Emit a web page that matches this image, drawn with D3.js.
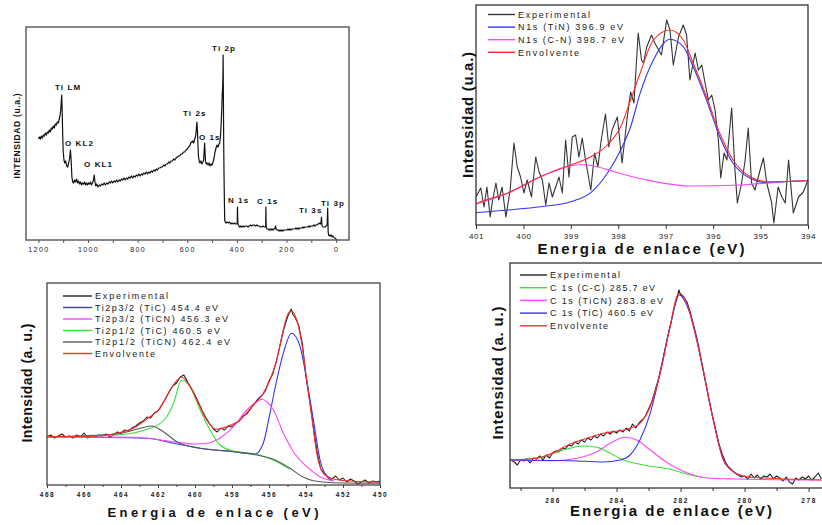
<!DOCTYPE html>
<html>
<head>
<meta charset="utf-8">
<script src="https://cdn.jsdelivr.net/npm/d3@7"></script>
<style>
  body { margin: 0; background: #fff; }
  text { font-family: "Liberation Sans", Arial, Helvetica, sans-serif; }
</style>
</head>
<body>
<svg id="fig" width="822" height="525"></svg>
<script>
// ---------- Survey spectrum: [binding energy (eV), intensity (a.u.)] ----------
const surveySpectrum = [
  [1200,101],[1196,103],[1192,101],[1188,104],[1184,102],[1180,105],[1176,104],[1172,107],[1168,105],[1164,108],
  [1160,107],[1156,110],[1152,108],[1148,112],[1144,111],[1140,114],[1136,112],[1132,116],[1128,115],[1124,118],
  [1120,117],[1116,121],[1113,124],[1110,130],[1108,138],[1106,145],[1104,128],[1102,105],[1100,88],[1097,80],
  [1094,77],[1090,79],[1086,74],[1082,73],[1078,77],[1074,82],[1071,90],[1068,80],[1065,63],[1062,58],
  [1058,57],[1054,60],[1050,58],[1046,61],[1042,57],[1038,59],[1034,56],[1030,58],[1026,55],[1022,57],
  [1018,56],[1014,58],[1010,55],[1006,57],[1002,55],[998,57],[994,56],[990,58],[986,55],[982,57],
  [978,60],[975,65],[972,58],[969,54],[965,56],[960,53],[955,55],[950,54],[945,56],[940,55],
  [935,57],[930,55],[925,57],[920,56],[915,58],[910,57],[905,59],[900,57],[895,59],[890,58],
  [885,60],[880,58],[875,60],[870,59],[865,61],[860,60],[855,62],[850,60],[845,62],[840,61],
  [835,63],[830,62],[825,64],[820,62],[815,64],[810,63],[805,65],[800,64],[795,66],[790,64],
  [785,66],[780,65],[775,67],[770,66],[765,68],[760,66],[755,68],[750,67],[745,69],[740,68],
  [735,70],[730,69],[725,71],[720,70],[715,72],[710,72],[705,73],[700,73],[695,75],[690,74],
  [685,76],[680,76],[675,78],[670,77],[665,79],[660,79],[655,81],[650,80],[645,82],[640,83],
  [635,84],[630,84],[625,86],[620,86],[615,88],[610,88],[605,90],[600,91],[595,93],[590,94],
  [586,97],[582,98],[578,99],[574,97],[570,101],[566,104],[563,112],[561,118],[559,110],[557,96],
  [555,84],[552,79],[549,77],[545,79],[541,76],[537,78],[534,80],[532,88],[530,97],[528,86],
  [526,78],[523,76],[520,77],[516,75],[512,77],[508,74],[504,76],[500,75],[496,78],[492,82],
  [488,88],[484,92],[480,95],[476,93],[472,96],[469,97],[466,104],[463,118],[461,130],[459,145],
  [457,155],[456,168],[455.5,185],[455,170],[454,130],[453,95],[452,70],[450,35],[449,20],[447,18],
  [444,17],[440,18],[435,17],[430,18],[425,16],[420,17],[415,16],[410,17],[405,16],[401,16],
  [398.5,17],[397.5,33],[396.5,20],[395.5,16],[392,14],[388,13],[384,14],[380,13],[375,14],[370,13],
  [365,14],[360,14],[355,13],[350,14],[345,15],[340,14],[335,15],[330,15],[325,14],[320,15],
  [315,14],[310,14],[305,13],[300,13],[295,14],[290,13],[286,13],[284,14],[283,33],[282,14],
  [281,12],[278,11],[274,11],[270,10],[266,11],[262,10],[258,11],[254,10],[250,11],[246,12],
  [244,14],[242,11],[238,10],[234,10],[230,9],[226,10],[222,9],[218,10],[214,9],[210,10],
  [206,10],[202,10],[198,10],[194,11],[190,10],[186,11],[182,10],[178,11],[174,11],[170,11],
  [166,11],[162,12],[158,11],[154,12],[150,11],[146,12],[142,12],[138,12],[134,13],[130,12],
  [126,13],[122,13],[118,13],[114,13],[110,14],[106,13],[102,14],[98,14],[94,14],[90,15],
  [86,14],[82,15],[78,15],[74,16],[70,16],[66,17],[63,16],[61,17],[59,23],[57,15],
  [55,14],[52,13],[48,13],[44,13],[40,14],[37,15],[36,15],[34,32],[32,8],[30,5],
  [28,4],[25,5],[22,4],[19,5],[16,3],[13,4],[10,3],[7,2],[4,2],[1,1],[-3,0]
];
const surveyTicks = [1200, 1000, 800, 600, 400, 200, 0];
const surveyMinorTicks = [1100, 900, 700, 500, 300, 100];
// Peak assignments: [label, energy, intensity] of the label's left baseline
const surveyPeakLabels = [
  ["Ti LM", 1133, 150], ["O KL2", 1093, 94], ["O KL1", 1016, 73], ["Ti 2s", 617, 124],
  ["O 1s", 553, 100], ["Ti 2p", 500, 189], ["N 1s", 436, 37], ["C 1s", 319, 36],
  ["Ti 3s", 150, 27], ["Ti 3p", 61, 34]
];

// ---------- N 1s high-resolution region ----------
const n1sExperimental = [
  [401.0,28],[400.9,37],[400.83,18],[400.77,38],[400.7,8],[400.66,22],[400.58,42],[400.52,25],[400.45,38],[400.37,8],
  [400.28,35],[400.2,82],[400.13,58],[400.06,48],[399.99,32],[399.92,45],[399.83,28],[399.74,68],[399.67,53],[399.6,45],
  [399.53,20],[399.46,42],[399.39,28],[399.32,38],[399.25,48],[399.18,32],[399.11,85],[399.04,48],[398.97,88],[398.9,90],
  [398.83,68],[398.76,87],[398.69,65],[398.58,35],[398.5,72],[398.43,58],[398.36,85],[398.27,111],[398.2,78],[398.13,95],
  [398.02,108],[397.92,62],[397.81,108],[397.74,133],[397.67,122],[397.58,192],[397.51,165],[397.47,162],[397.4,178],[397.3,190],
  [397.23,182],[397.09,170],[396.98,205],[396.91,195],[396.84,160],[396.73,188],[396.63,200],[396.56,190],[396.49,145],[396.38,172],
  [396.31,155],[396.24,160],[396.17,142],[396.1,125],[396.03,130],[395.96,115],[395.89,85],[395.84,47],[395.77,72],[395.71,65],
  [395.61,117],[395.54,55],[395.49,22],[395.4,42],[395.33,63],[395.26,97],[395.19,42],[395.12,35],[395.01,55],[394.94,67],
  [394.87,42],[394.77,23],[394.72,2],[394.63,38],[394.55,28],[394.48,22],[394.41,65],[394.31,12],[394.2,28],[394.1,33],[394.0,45]
];
const n1sTiN = [
  [401,12.3],[400.34,15],[399.64,18.3],[399.0,23.3],[398.58,32.3],[398.23,51.7],[397.95,75],[397.74,98.3],[397.54,131.7],
  [397.26,165],[396.91,185.7],[396.63,178.3],[396.42,158.3],[396.14,125],[395.86,88.3],[395.58,61.7],[395.22,46.7],
  [394.87,42.3],[394.5,43.3],[394,44.5]
];
const n1sCN = [
  [401,21],[400.34,31.7],[399.64,48.3],[399.0,59.5],[398.8,60.3],[398.6,59.8],[398.44,58.3],[398.09,53.3],[397.46,45.7],
  [396.49,39],[395.43,40],[394.6,43],[394,44.5]
];
const n1sEnvelope = [
  [401,21],[400.97,21.7],[400.34,31.7],[399.64,48.3],[399.0,60],[398.58,68.3],[398.23,80],[397.95,98.3],[397.74,125],
  [397.54,151.7],[397.26,185],[396.91,195],[396.63,185],[396.42,161.7],[396.14,128.3],[395.86,91.7],[395.58,65],
  [395.22,48.3],[394.87,43.3],[394.03,44.3],[394,44.5]
];
const n1sTicks = [401, 400, 399, 398, 397, 396, 395, 394];

// ---------- Ti 2p high-resolution region ----------
const ti2pExperimental = [
  [468.0,48],[467.8,50],[467.6,47],[467.4,49],[467.2,51],[467.0,48],[466.8,49],[466.6,47],[466.4,50],[466.2,48],
  [466.0,52],[465.8,47],[465.6,49],[465.4,48],[465.2,50],[465.0,49],[464.8,51],[464.6,48],[464.4,50],[464.2,53],
  [464.0,52],[463.8,55],[463.6,54],[463.4,57],[463.2,59],[463.0,62],[462.8,64],[462.6,68],[462.4,67],[462.2,72],
  [462.0,74],[461.8,80],[461.6,86],[461.4,93],[461.2,99],[461.0,102],[460.8,108],[460.6,110],[460.4,103],[460.2,97],
  [460.0,90],[459.8,82],[459.6,74],[459.4,67],[459.2,61],[459.0,56],[458.8,53],[458.6,57],[458.4,55],[458.2,59],
  [458.0,58],[457.8,62],[457.6,64],[457.4,69],[457.2,71],[457.0,76],[456.8,81],[456.6,86],[456.4,89],[456.2,94],
  [456.0,104],[455.8,111],[455.6,124],[455.4,140],[455.2,156],[455.0,168],[454.9,172],[454.8,176],[454.7,170],[454.6,168],
  [454.4,160],[454.2,142],[454.0,108],[453.8,84],[453.6,58],[453.4,33],[453.2,16],[453.0,12],[452.8,8],[452.6,6],
  [452.4,9],[452.2,5],[452.0,7],[451.8,3],[451.6,6],[451.4,4],[451.2,1],[451.0,3],[450.8,5],[450.6,2],
  [450.4,4],[450.2,3],[450.0,4]
];
const ti2p32TiC = [
  [467.93,48.3],[462.6,46.7],[461.16,41.7],[459.72,36.7],[457.92,33.3],[456.75,31],[456.31,41.7],[455.95,71.7],
  [455.58,105],[455.23,131.7],[454.78,151.7],[454.32,138.3],[453.96,105],[453.6,65],[453.24,25],[452.79,6.7],[452.52,4.3]
];
const ti2p32TiCN = [
  [467.93,48.3],[463.34,47.7],[461.16,43.3],[460.08,41],[459.37,41.7],[458.83,45],[457.92,58.3],[457.2,75],
  [456.66,83.3],[456.39,85.7],[456.12,83.3],[455.76,75],[455.22,51.7],[454.68,33.3],[453.96,18.3],[453.24,8.3],[452.52,4]
];
const ti2p12TiC = [
  [467.93,48.3],[464.23,50],[462.43,56.7],[461.53,68.3],[461.16,81.7],[460.72,105],[460.27,98.3],[459.72,75],
  [459.19,55],[458.65,40],[457.92,34],[456.66,30.7],[455.58,23.3],[454.86,15.7]
];
const ti2p12TiCN = [
  [467.93,48.3],[464.23,51],[462.97,56.7],[462.34,59],[461.71,53.3],[460.99,43.3],[459.72,36.7],[457.92,33.3],
  [456.66,30],[455.58,24.3],[454.86,16.7],[454.14,7.7],[453.6,4.3],[452.52,2.3],[450,1.7]
];
const ti2pEnvelope = [
  [467.93,48.3],[465.14,49.3],[464.23,51.7],[463.34,56.7],[462.43,68.3],[461.89,76.7],[461.35,95],[460.72,107.7],
  [460.27,98.3],[459.82,81.7],[459.37,65],[458.83,55.7],[458.29,58.3],[457.57,65],[456.85,80],[456.31,91.7],
  [455.95,105],[455.58,125],[455.23,155],[454.96,171.7],[454.81,174],[454.5,165],[454.23,141.7],[453.96,105],
  [453.69,68.3],[453.42,31.7],[453.06,11.7],[452.52,6],[451.62,4],[450,2.7]
];
const ti2pTicks = [468, 466, 464, 462, 460, 458, 456, 454, 452, 450];
const ti2pMinorTicks = [467, 465, 463, 461, 459, 457, 455, 453, 451];

// ---------- C 1s high-resolution region ----------
const c1sExperimental = [
  [287.3,28],[287.2,26],[287.1,23],[287.0,28],[286.9,27],[286.8,29],[286.7,25],[286.6,30],[286.5,29],[286.4,32],
  [286.3,28],[286.2,33],[286.1,30],[286.0,35],[285.9,37],[285.8,36],[285.7,40],[285.6,39],[285.5,43],[285.4,42],
  [285.3,46],[285.2,44],[285.1,48],[285.0,46],[284.9,50],[284.8,48],[284.7,52],[284.6,50],[284.5,54],[284.4,52],
  [284.3,56],[284.2,54],[284.1,57],[284.0,55],[283.9,58],[283.8,56],[283.7,60],[283.6,57],[283.5,64],[283.4,60],
  [283.3,65],[283.2,68],[283.1,72],[283.0,79],[282.9,86],[282.8,97],[282.7,108],[282.6,122],[282.5,137],[282.4,152],
  [282.3,165],[282.2,180],[282.1,192],[282.05,198],[282.0,193],[281.9,191],[281.8,186],[281.7,176],[281.6,163],[281.5,149],
  [281.4,134],[281.3,118],[281.2,102],[281.1,86],[281.0,72],[280.9,58],[280.8,44],[280.7,34],[280.6,26],[280.5,21],
  [280.4,18],[280.3,15],[280.2,13],[280.1,11],[280.0,12],[279.9,9],[279.8,14],[279.7,10],[279.6,13],[279.5,9],
  [279.4,12],[279.3,11],[279.2,14],[279.1,9],[279.0,12],[278.9,10],[278.8,7],[278.7,11],[278.6,6],[278.5,4],
  [278.4,10],[278.3,8],[278.2,11],[278.1,9],[278.0,12],[277.9,8],[277.8,11],[277.7,15],[277.6,9]
];
const c1sCC = [
  [287.33,28],[286.29,31.3],[285.66,38],[285.04,42],[284.62,40.7],[284.2,34.7],[283.79,28],[283.16,23],
  [282.33,18.7],[281.7,13],[281.29,10.7]
];
const c1sTiCN = [
  [287.33,28],[285.97,27.3],[285.24,29.7],[284.62,36.3],[284.2,44.7],[283.74,50.7],[283.37,48],[282.95,38],
  [282.54,28],[282.12,19.7],[281.5,12],[281.08,9.7],[280.25,9],[277.6,8]
];
const c1sTiC = [
  [287.33,28],[285.45,27.3],[284.41,26],[283.89,28],[283.58,33],[283.27,48],[282.95,74.7],[282.64,114.7],
  [282.33,161.3],[282.04,193],[281.81,183],[281.5,151.3],[281.29,118],[280.98,68],[280.66,28],[280.35,16.3],[280.04,11.3]
];
const c1sEnvelope = [
  [287.33,28],[286.5,29.7],[285.97,35.3],[285.45,44],[284.93,49.7],[284.41,54.7],[283.89,57.3],[283.58,59.7],
  [283.27,64.7],[282.95,81.3],[282.64,114.7],[282.33,161.3],[282.12,191.3],[282.02,194.7],[281.81,184.7],
  [281.6,161.3],[281.29,118],[280.98,68],[280.66,28],[280.35,16.3],[279.93,11.3],[279.2,9.7],[277.6,8]
];
const c1sTicks = [286, 284, 282, 280, 278];
const c1sMinorTicks = [287, 285, 283, 281, 279];

// ---------- drawing ----------
const COLORS = { exp: "#222", blue: "#3535f2", magenta: "#ff45ff", green: "#38e038", gray: "#595959", red: "#ff2b2b" };
const svg = d3.select("#fig");
svg.append("rect").attr("width", 822).attr("height", 525).attr("fill", "#fff");
const defs = svg.append("defs");
let clipCount = 0;

function drawPanel(cfg) {
  const b = cfg.box;
  const x = d3.scaleLinear().domain(cfg.xDomain).range([b.left, b.right]);
  const y = d3.scaleLinear().domain(cfg.yDomain).range([b.bottom, b.top]);
  const id = "clip" + (clipCount++);
  defs.append("clipPath").attr("id", id).append("rect")
    .attr("x", b.left).attr("y", b.top).attr("width", b.right - b.left).attr("height", b.bottom - b.top);
  const g = svg.append("g");

  // axis ticks along the bottom edge
  const major = d3.axisBottom(x).tickValues(cfg.ticks).tickSize(cfg.tickLen)
    .tickPadding(cfg.tickPad).tickFormat(d3.format("d"));
  const axG = g.append("g").attr("transform", `translate(0,${b.bottom})`).call(major);
  axG.select(".domain").remove();
  axG.selectAll(".tick line").attr("stroke", cfg.frameColor).attr("stroke-width", 1);
  axG.selectAll(".tick text").attr("fill", "#222").attr("font-size", cfg.tickFont)
    .attr("font-weight", cfg.tickWeight || "normal")
    .attr("font-family", '"Liberation Sans", Arial, sans-serif')
    .style("letter-spacing", cfg.tickSpacing + "px");
  if (cfg.minorTicks) {
    const minor = d3.axisBottom(x).tickValues(cfg.minorTicks).tickSize(cfg.minorLen).tickFormat("");
    const mG = g.append("g").attr("transform", `translate(0,${b.bottom})`).call(minor);
    mG.select(".domain").remove();
    mG.selectAll(".tick line").attr("stroke", cfg.frameColor).attr("stroke-width", 1);
  }

  // spectra
  const plot = g.append("g").attr("clip-path", `url(#${id})`);
  cfg.series.forEach(s => {
    const line = d3.line().x(d => x(d[0])).y(d => y(d[1]))
      .curve(s.smooth ? d3.curveMonotoneX : d3.curveLinear);
    plot.append("path").datum(s.data).attr("d", line).attr("fill", "none")
      .attr("stroke", s.color).attr("stroke-width", s.width || 1.1)
      .attr("stroke-linejoin", "round");
  });

  // frame
  g.append("rect").attr("x", b.left).attr("y", b.top)
    .attr("width", (cfg.frameRight || b.right) - b.left).attr("height", b.bottom - b.top)
    .attr("fill", "none").attr("stroke", cfg.frameColor).attr("stroke-width", cfg.frameWidth || 1.3);

  // legend
  if (cfg.legend) {
    const L = cfg.legend;
    cfg.series.forEach((s, i) => {
      if (!s.label) return;
      const ry = L.y0 + i * L.dy;
      g.append("line").attr("x1", L.x0).attr("x2", L.x1).attr("y1", ry).attr("y2", ry)
        .attr("stroke", s.color).attr("stroke-width", 1.4);
      g.append("text").attr("x", L.tx).attr("y", ry + 3.2).attr("font-size", L.font)
        .attr("fill", "#222").attr("textLength", s.labelLen).attr("lengthAdjust", "spacing")
        .text(s.label);
    });
  }

  // axis titles
  if (cfg.xTitle) {
    const t = cfg.xTitle;
    g.append("text").attr("x", t.x).attr("y", t.y).attr("text-anchor", "middle")
      .attr("font-size", t.font).attr("font-weight", "bold").attr("fill", "#111")
      .attr("textLength", t.len).attr("lengthAdjust", "spacing").text(t.text);
  }
  if (cfg.yTitle) {
    const t = cfg.yTitle;
    g.append("text").attr("transform", `translate(${t.x},${t.y}) rotate(-90)`)
      .attr("text-anchor", "middle").attr("font-size", t.font).attr("font-weight", "bold")
      .attr("fill", "#111").attr("textLength", t.len).attr("lengthAdjust", "spacing").text(t.text);
  }
  return { x, y, g };
}

// Survey
const survey = drawPanel({
  box: { left: 26, right: 349, top: 27, bottom: 240 },
  xDomain: [1250, -52], yDomain: [0, 213],
  ticks: surveyTicks, minorTicks: surveyMinorTicks, tickLen: 3, minorLen: 3, tickPad: 4,
  tickFont: 7, tickSpacing: 1.4, frameColor: "#555", frameWidth: 1.4,
  series: [{ data: surveySpectrum, color: "#111", width: 1.2 }],
  yTitle: { text: "INTENSIDAD (u.a.)", x: 19.5, y: 136, font: 8.5, len: 85 }
});
survey.g.selectAll("text.peak").data(surveyPeakLabels).join("text")
  .attr("class", "peak")
  .attr("x", d => survey.x(d[1])).attr("y", d => survey.y(d[2]))
  .attr("font-size", 8).attr("font-weight", "bold").attr("fill", "#111")
  .style("letter-spacing", "1.1px")
  .text(d => d[0]);

// N 1s
drawPanel({
  box: { left: 476, right: 808, top: 5, bottom: 225 },
  xDomain: [401, 394], yDomain: [0, 220],
  ticks: n1sTicks, tickLen: 4, tickPad: 4, tickFont: 8, tickSpacing: 0.6, frameColor: "#333",
  series: [
    { data: n1sExperimental, color: "#333", width: 1.1, label: "Experimental", labelLen: 72 },
    { data: n1sTiN, color: COLORS.blue, smooth: true, label: "N1s (TiN) 396.9 eV", labelLen: 105 },
    { data: n1sCN, color: COLORS.magenta, smooth: true, label: "N1s (C-N) 398.7 eV", labelLen: 106 },
    { data: n1sEnvelope, color: COLORS.red, smooth: true, label: "Envolvente", labelLen: 61 }
  ],
  legend: { x0: 488, x1: 515, tx: 518, y0: 14.5, dy: 12.6, font: 9 },
  xTitle: { text: "Energia de enlace (eV)", x: 641, y: 254, font: 15, len: 207 },
  yTitle: { text: "Intensidad (u.a.)", x: 473, y: 115, font: 15, len: 126 }
});

// Ti 2p
drawPanel({
  box: { left: 47, right: 380, top: 283, bottom: 485 },
  xDomain: [468, 450], yDomain: [0, 202],
  ticks: ti2pTicks, minorTicks: ti2pMinorTicks, tickLen: 3, minorLen: 2, tickPad: 4,
  tickFont: 6.5, tickWeight: "bold", tickSpacing: 1.6, frameColor: "#444",
  series: [
    { data: ti2pExperimental, color: "#222", width: 1.1, label: "Experimental", labelLen: 73 },
    { data: ti2p32TiC, color: COLORS.blue, smooth: true, label: "Ti2p3/2 (TiC) 454.4 eV", labelLen: 123 },
    { data: ti2p32TiCN, color: COLORS.magenta, smooth: true, label: "Ti2p3/2 (TiCN) 456.3 eV", labelLen: 133 },
    { data: ti2p12TiC, color: COLORS.green, smooth: true, label: "Ti2p1/2 (TiC) 460.5 eV", labelLen: 125 },
    { data: ti2p12TiCN, color: COLORS.gray, smooth: true, label: "Ti2p1/2 (TiCN) 462.4 eV", labelLen: 135 },
    { data: ti2pEnvelope, color: COLORS.red, smooth: true, label: "Envolvente", labelLen: 60 }
  ],
  legend: { x0: 63, x1: 92, tx: 95, y0: 296, dy: 11.5, font: 9 },
  xTitle: { text: "Energia de enlace (eV)", x: 213, y: 517, font: 13, len: 211 },
  yTitle: { text: "Intensidad (a. u.)", x: 32, y: 383, font: 14, len: 119 }
});

// C 1s
drawPanel({
  box: { left: 510, right: 823, top: 263, bottom: 488 },
  xDomain: [287.33, 277.55], yDomain: [0, 225],
  ticks: c1sTicks, minorTicks: c1sMinorTicks, tickLen: 4, minorLen: 3, tickPad: 6,
  tickFont: 6.5, tickWeight: "bold", tickSpacing: 1.6, frameColor: "#333", frameRight: 830,
  series: [
    { data: c1sExperimental, color: "#222", width: 1.1, label: "Experimental", labelLen: 70 },
    { data: c1sCC, color: COLORS.green, smooth: true, label: "C 1s (C-C) 285.7 eV", labelLen: 105 },
    { data: c1sTiCN, color: COLORS.magenta, smooth: true, label: "C 1s (TiCN) 283.8 eV", labelLen: 113 },
    { data: c1sTiC, color: COLORS.blue, smooth: true, label: "C 1s (TiC) 460.5 eV", labelLen: 103 },
    { data: c1sEnvelope, color: COLORS.red, smooth: true, label: "Envolvente", labelLen: 58 }
  ],
  legend: { x0: 520, x1: 547, tx: 550, y0: 275, dy: 12.7, font: 9 },
  xTitle: { text: "Energia de enlace (eV)", x: 671, y: 516, font: 15, len: 202 },
  yTitle: { text: "Intensidad (a. u.)", x: 503, y: 373, font: 15, len: 133 }
});
</script>
</body>
</html>
